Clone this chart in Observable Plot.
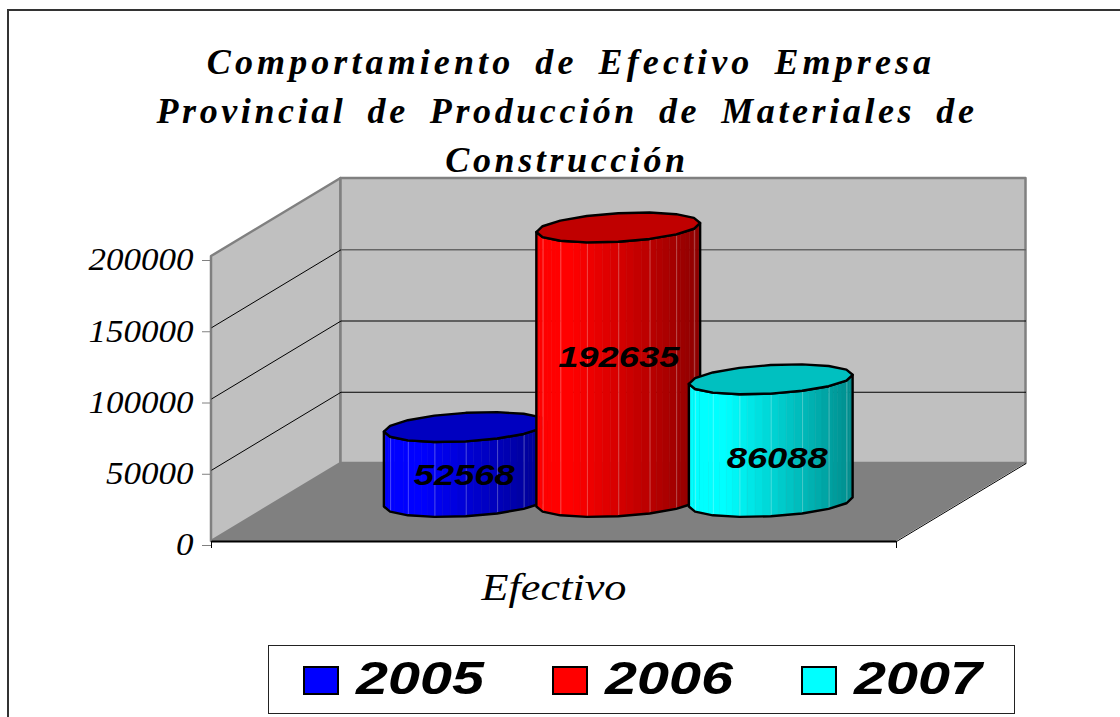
<!DOCTYPE html>
<html>
<head>
<meta charset="utf-8">
<script src="https://cdn.jsdelivr.net/npm/d3@7"></script>
<script src="https://cdn.jsdelivr.net/npm/@observablehq/plot@0.6"></script>
<style>
html,body{margin:0;padding:0;background:#fff;overflow:hidden}
#page{position:relative;width:1120px;height:717px;overflow:hidden}
#frame{position:absolute;left:7px;top:9px;width:1200px;height:800px;border-left:2px solid #333;border-top:2px solid #333}
#chart{position:absolute;left:0;top:0}
#title{position:absolute;left:0;top:38px;width:1134px;text-align:center;font:italic bold 36px/49px "Liberation Serif",serif;letter-spacing:3.6px;color:#000}
#title div{white-space:nowrap}
#title div:nth-child(1){letter-spacing:4.1px;word-spacing:8px;padding-left:8px}
#title div:nth-child(2){word-spacing:8.5px}
#legend{position:absolute;left:268px;top:645px;width:745px;height:67px;border:1.5px solid #222;background:#fff}
.sw{position:absolute;top:20px;width:32px;height:25px;border:2px solid #000;box-sizing:content-box}
.lb{position:absolute;top:6px;font:italic bold 46px/52px "Liberation Sans",Arial,sans-serif;transform:scaleX(1.25);transform-origin:left center;color:#000}
</style>
</head>
<body>
<div id="page">
<div id="frame"></div>
<div id="chart"></div>
<div id="title"></div>
<div id="legend"></div>
</div>
<script>
const titleLines = ["Comportamiento de Efectivo Empresa","Provincial de Producción de Materiales de","Construcción"];
const category = "Efectivo";
const years = ["2005","2006","2007"];
const values = [52568,192635,86088];
const colors = ["#0000ff","#ff0000","#00ffff"];
const topColors = ["#0000c0","#c00000","#00c0c0"];
const yTicks = [0,50000,100000,150000,200000];

// oblique depth axis of the 3D box, in units of the x and y scales
const depthX = 129.5/685, depthY = 78/285*200000;
const px = (x,d) => x + d*depthX;
const py = (v,d) => v + d*depthY;

// column slots along the category axis
const slotStep = 0.2226, rx = 0.1139, rd = 0.192, N = 16, SUB = 4;
const t0 = Math.atan2(rd*depthX, rx);
const ring = d3.range(N+1).map(k => t0 + 2*Math.PI*k/N);
const labelShift = [10,-8,17];

const marks = [];
// walls and floor
marks.push(Plot.area([0,1],{x1:d=>px(0,d),x2:d=>px(0,d),y1:d=>py(0,d),y2:d=>py(200000,d),fill:"#c0c0c0",stroke:"#808080",strokeWidth:2.5}));
marks.push(Plot.area([0,1],{x1:d=>px(d,1),x2:d=>px(d,1),y1:()=>py(0,1),y2:()=>py(200000,1),fill:"#c0c0c0",stroke:"#808080",strokeWidth:2.5}));
marks.push(Plot.area([0,1],{x1:d=>px(0,d),x2:d=>px(1,d),y1:d=>py(0,d),y2:d=>py(0,d),fill:"#808080"}));
// gridlines
const gridTicks = yTicks.slice(1,4);
marks.push(Plot.link(gridTicks,{x1:()=>px(0,0),x2:()=>px(0,1),y1:v=>py(v,0),y2:v=>py(v,1),stroke:"#000",strokeWidth:1}));
marks.push(Plot.link(gridTicks,{x1:()=>px(0,1),x2:()=>px(1,1),y1:v=>py(v,1),y2:v=>py(v,1),stroke:v=>v===150000?"#666":"#000",strokeWidth:v=>v===150000?1.5:1}));
marks.push(Plot.link([0],{x1:()=>px(0,0),x2:()=>px(1,0),y1:()=>0,y2:()=>0,stroke:"#000",strokeWidth:2}));
marks.push(Plot.link([0],{x1:()=>px(1,0),x2:()=>px(1,1),y1:()=>py(0,0),y2:()=>py(0,1),stroke:"#000",strokeWidth:1}));
// axes
marks.push(Plot.axisY({ticks:yTicks,tickSize:9,tickPadding:9,label:null,tickFormat:d=>String(d),fontFamily:"Liberation Serif",fontStyle:"italic",fontSize:31,dy:4,stroke:"#808080",fill:"#000",textOverflow:null}));
marks.push(Plot.axisX({ticks:[0,1],tickSize:7,label:null,tickFormat:()=>"",stroke:"#000",strokeWidth:1}));
marks.push(Plot.text([category],{x:()=>0.5,y:()=>0,dy:46,text:d=>d,fontFamily:"Liberation Serif",fontStyle:"italic",fontSize:38,fill:"#000"}));

// columns
values.forEach((v,i)=>{
  const cx = 0.5 + (i-1)*slotStep;
  const X = t => px(cx+rx*Math.cos(t), 0.5+rd*Math.sin(t));
  const D = t => 0.5+rd*Math.sin(t);
  const front = ring.slice(N/2);           // left extreme, through the front, to the right extreme
  const left = X(front[0]), right = X(front[front.length-1]);
  const base = d3.rgb(colors[i]);
  const shade = f => {
    const k = f<0.22 ? 1 : 1-(f-0.22)/0.78*0.45;
    return d3.rgb(base.r*k,base.g*k,base.b*k).formatHex();
  };
  // strips along each polygon side, for a smooth shading
  const strips = [];
  front.slice(0,-1).forEach((t,e)=>{
    const u = front[e+1];
    d3.range(SUB).forEach(s=>{
      const a = s/SUB, b = (s+1)/SUB;
      const p = w => ({sx:X(t)+(X(u)-X(t))*w, d:D(t)+(D(u)-D(t))*w});
      const c = shade(((p(a).sx+p(b).sx)/2-left)/(right-left));
      strips.push({k:e*SUB+s,c,...p(a)},{k:e*SUB+s,c,...p(b)});
    });
  });
  marks.push(Plot.area(strips,{x1:d=>d.sx,x2:d=>d.sx,y1:d=>py(0,d.d),y2:d=>py(v,d.d),z:"k",fill:"c",stroke:"c",strokeWidth:0.6}));
  marks.push(Plot.link(front.slice(1,-1),{x1:X,x2:X,y1:t=>py(0,D(t)),y2:t=>py(v,D(t)),stroke:"#fff",strokeOpacity:0.28,strokeWidth:1}));
  marks.push(Plot.area(front,{x1:X,x2:X,y1:t=>py(0,D(t)),y2:t=>py(v,D(t)),fill:"none",stroke:"#000",strokeWidth:2.4,strokeLinejoin:"round"}));
  const halves = d3.range(N/2+1);
  marks.push(Plot.area(halves,{x1:k=>X(ring[k]),x2:k=>X(ring[N-k]),y1:k=>py(v,D(ring[k])),y2:k=>py(v,D(ring[N-k])),fill:topColors[i],stroke:"#000",strokeWidth:2.4,strokeLinejoin:"round"}));
});
// value labels
values.forEach((v,i)=>{
  marks.push(Plot.text([v],{x:()=>px(0.5+(i-1)*slotStep,0.5),y:d=>py(d/2,0.5),dy:labelShift[i],dx:i===0?-2:i===2?6:0,text:d=>String(d),fontFamily:"Liberation Sans",fontWeight:"bold",fontStyle:"italic",fontSize:30,fill:"#000"}));
});

const svg = Plot.plot({
  width:1120,height:717,
  marginLeft:211,marginRight:224,marginTop:256,marginBottom:176,
  style:{background:"transparent",overflow:"visible"},
  x:{domain:[0,1],axis:null,label:null},
  y:{domain:[0,200000],axis:null,label:null},
  color:{type:"identity"},
  marks
});
document.getElementById("chart").append(svg);

// widen text the way the reference stretches it
svg.querySelectorAll("text").forEach(el=>{
  const s = el.textContent;
  let len = null;
  if (values.map(String).includes(s)) len = s.length*20.2;
  else if (s===category) len = 145;
  else if (yTicks.map(String).includes(s)) len = s.length*17.5;
  if (len){el.setAttribute("textLength",len);el.setAttribute("lengthAdjust","spacingAndGlyphs");}
});

const title = document.getElementById("title");
titleLines.forEach(l=>{const d=document.createElement("div");d.textContent=l;title.append(d);});

const legend = document.getElementById("legend");
years.forEach((y,i)=>{
  const step = 249.2;
  const sw = document.createElement("div");
  sw.className="sw";sw.style.left=(34+i*step)+"px";sw.style.background=colors[i];
  const lb = document.createElement("div");
  lb.className="lb";lb.style.left=(87+i*step)+"px";lb.textContent=y;
  legend.append(sw,lb);
});
</script>
</body>
</html>
